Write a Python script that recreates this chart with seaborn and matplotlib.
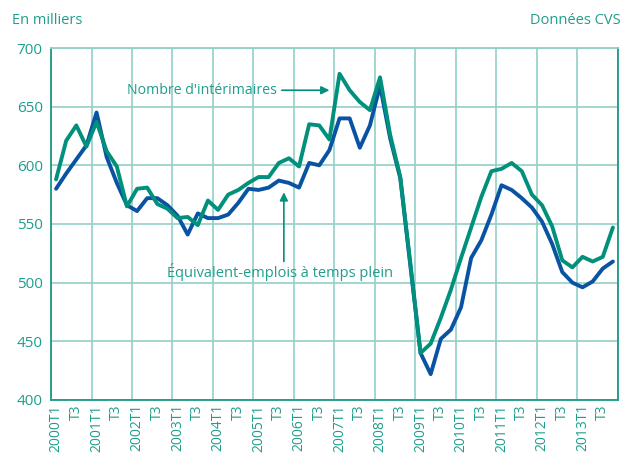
import matplotlib
matplotlib.use("Agg")
import matplotlib.pyplot as plt
import seaborn as sns
import numpy as np
import pandas as pd

# trimestres 2000T1 .. 2013T4
annees = list(range(2000, 2014))
trimestres = ["T1", "T2", "T3", "T4"]

interimaires = [
    588, 621, 634, 616, 637, 612, 599, 565, 580, 581,
    567, 563, 555, 556, 549, 570, 562, 575, 579, 585,
    590, 590, 602, 606, 599, 635, 634, 622, 678, 664,
    654, 647, 675, 626, 590, 516, 440, 448, 470, 494,
    521, 547, 573, 595, 597, 602, 595, 575, 566, 548,
    519, 513, 522, 518, 522, 547,
]

equiv_emplois = [
    580, 593, 605, 617, 645, 607, 585, 566, 561, 572,
    572, 566, 557, 541, 559, 555, 555, 558, 568, 580,
    579, 581, 587, 585, 581, 602, 600, 613, 640, 640,
    615, 634, 668, 623, 589, 514, 440, 422, 452, 460,
    479, 521, 536, 558, 583, 579, 572, 564, 552, 533,
    509, 500, 496, 501, 512, 518,
]

periodes = [f"{a}{t}" for a in annees for t in trimestres]
etiquettes = []
for a in annees:
    etiquettes += [f"{a}T1", "T3"]

vert = "#00907C"
bleu = "#0A52A2"
texte = "#1E9E8C"
grille = "#92D0C6"
axe = "#1A9A86"

df = pd.DataFrame({
    "idx": np.arange(len(periodes)),
    "periode": periodes,
    "Nombre d'intérimaires": interimaires,
    "Équivalent-emplois à temps plein": equiv_emplois,
})

sns.set_style("white")
plt.rcParams["font.family"] = ["Open Sans", "DejaVu Sans"]

fig = plt.figure(figsize=(6.22, 4.55), dpi=100)
ax = fig.add_axes([0.082, 0.121, 0.9115, 0.7735])

sns.lineplot(data=df, x="idx", y="Nombre d'intérimaires", color=vert,
             linewidth=2.8, ax=ax, zorder=3)
sns.lineplot(data=df, x="idx", y="Équivalent-emplois à temps plein", color=bleu,
             linewidth=2.8, ax=ax, zorder=2)

n = len(periodes)
ax.set_xlim(-0.5, n - 0.5)
ax.set_ylim(400, 700)
ax.set_yticks(np.arange(400, 701, 50))

ax.set_xticks(np.arange(0, n, 2))
ax.set_xticklabels(etiquettes, rotation=90, color=texte, fontsize=10)
ax.set_xticks(np.arange(-0.5, n, 4), minor=True)
ax.tick_params(axis="x", which="major", length=0, pad=3)
ax.tick_params(axis="x", which="minor", length=5, color=grille, width=1.2)
ax.tick_params(axis="y", length=4, color=axe, width=1.2, labelcolor=texte,
               labelsize=11, pad=2)

ax.grid(True, axis="y", color=grille, linewidth=1.2)
ax.grid(True, axis="x", which="minor", color=grille, linewidth=1.2)
ax.set_axisbelow(True)

for cote, sp in ax.spines.items():
    sp.set_color(axe)
    sp.set_linewidth(1.3)
ax.spines["top"].set_color(grille)

ax.set_xlabel("")
ax.set_ylabel("")

fig.text(0.019, 0.955, "En milliers", color=texte, fontsize=10.5, va="center")
fig.text(0.997, 0.955, "Données CVS", color=texte, fontsize=10.5, va="center",
         ha="right")

# annotations
fleche = dict(arrowstyle="-|>", color=vert, lw=1.2, mutation_scale=12,
              shrinkA=0, shrinkB=0)
ax.text(21.8, 664, "Nombre d'intérimaires", color=texte, fontsize=10.2,
        ha="right", va="center")
ax.annotate("", xy=(27.0, 664), xytext=(22.3, 664), arrowprops=fleche)
ax.text(22.1, 509, "Équivalent-emplois à temps plein", color=texte,
        fontsize=10.5, ha="center", va="center")
ax.annotate("", xy=(22.5, 577), xytext=(22.5, 518), arrowprops=fleche)

fig.savefig("out.png", dpi=100)
